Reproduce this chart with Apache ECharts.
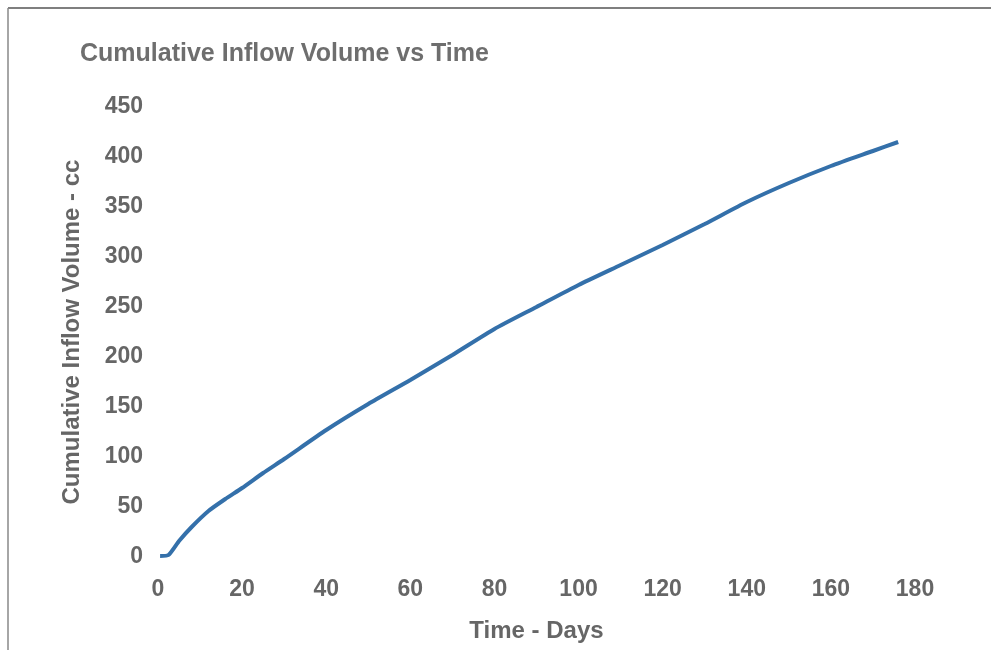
<!DOCTYPE html>
<html>
<head>
<meta charset="utf-8">
<script src="https://cdn.jsdelivr.net/npm/echarts@6/dist/echarts.min.js"></script>
<style>
html,body{margin:0;padding:0;background:#fff;}
#chart{width:991px;height:650px;}
</style>
</head>
<body>
<div id="chart"></div>
<script>
const days = [0.5, 2.5, 5, 8, 12, 16, 20, 25, 30, 40, 50, 60, 70, 80, 90, 100, 110, 120, 130, 140, 150, 160, 170, 176];
const volume = [1, 2, 16, 30, 46, 58, 69, 84, 98, 127, 153, 177, 202, 228, 250, 272, 292, 312, 333, 355, 374, 391, 406, 415];
const xTicks = [0, 20, 40, 60, 80, 100, 120, 140, 160, 180];
const yTicks = [0, 50, 100, 150, 200, 250, 300, 350, 400, 450];

const chart = echarts.init(document.getElementById('chart'));
const textColor = '#666';
const font = 'Liberation Sans, Arial, sans-serif';
chart.setOption({
  animation: false,
  backgroundColor: '#fff',
  title: {
    text: 'Cumulative Inflow Volume vs Time',
    left: 75, top: 37,
    textStyle: {color: '#6e6e6e', fontSize: 25, fontWeight: 'bold', fontFamily: font}
  },
  graphic: [
    {type: 'line', shape: {x1: 8, y1: 8, x2: 991, y2: 8}, style: {stroke: '#555', lineWidth: 1.5}},
    {type: 'line', shape: {x1: 8, y1: 8, x2: 8, y2: 650}, style: {stroke: '#888', lineWidth: 1.5}}
  ],
  grid: {left: 158, right: 76, top: 107, bottom: 93},
  xAxis: {
    type: 'value', min: 0, max: 180, interval: 20,
    name: 'Time - Days', nameLocation: 'middle', nameGap: 62,
    nameTextStyle: {color: textColor, fontSize: 24, fontWeight: 'bold', fontFamily: font},
    axisLine: {show: false}, axisTick: {show: false}, splitLine: {show: false},
    axisLabel: {color: textColor, fontSize: 23, fontWeight: 'bold', fontFamily: font, margin: 21,
      formatter: v => xTicks.includes(v) ? String(v) : ''}
  },
  yAxis: {
    type: 'value', min: 0, max: 450, interval: 50,
    name: 'Cumulative Inflow Volume - cc', nameLocation: 'middle', nameGap: 74,
    nameTextStyle: {color: textColor, fontSize: 24, fontWeight: 'bold', fontFamily: font},
    axisLine: {show: false}, axisTick: {show: false}, splitLine: {show: false},
    axisLabel: {color: textColor, fontSize: 23, fontWeight: 'bold', fontFamily: font, margin: 15,
      formatter: v => yTicks.includes(v) ? String(v) : ''}
  },
  series: [{
    type: 'line',
    data: days.map((d, i) => [d, volume[i]]),
    smooth: 0.2,
    showSymbol: false,
    lineStyle: {color: '#3470aa', width: 4}
  }]
});
</script>
</body>
</html>
